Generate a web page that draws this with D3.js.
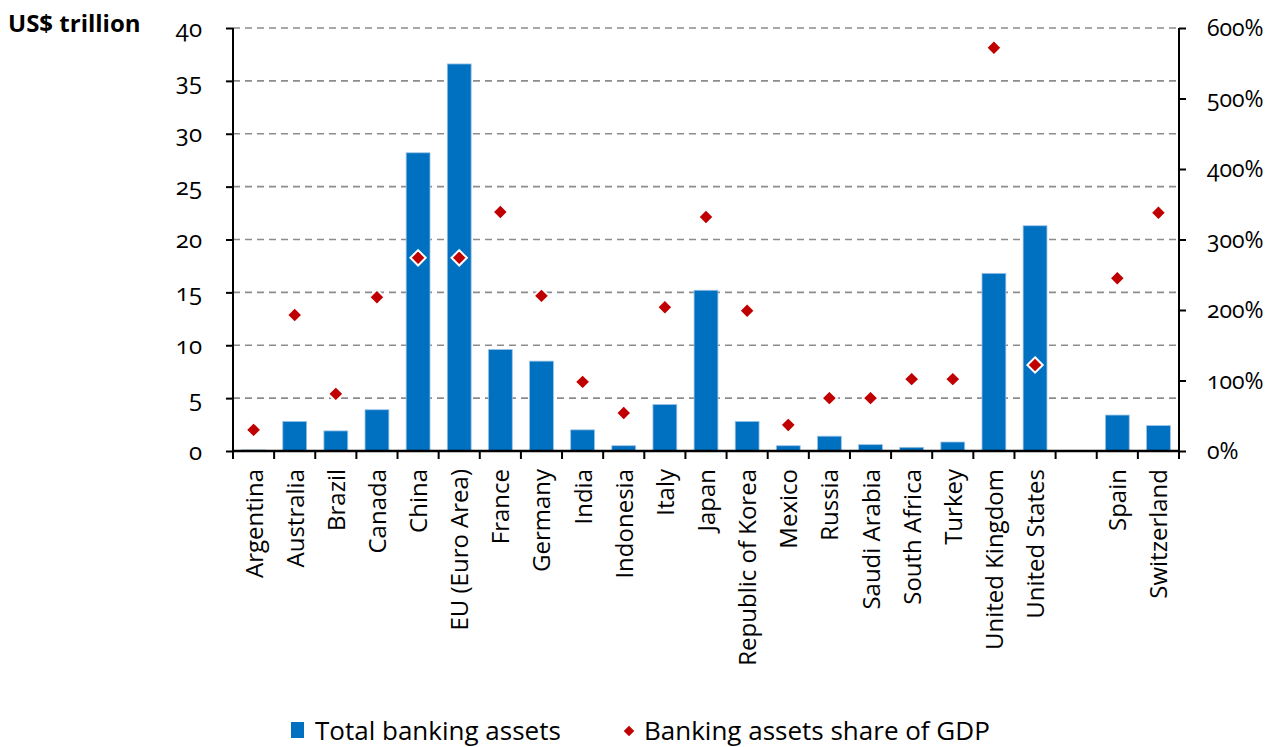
<!DOCTYPE html>
<html><head><meta charset="utf-8">
<script src="https://cdn.jsdelivr.net/npm/d3@7/dist/d3.min.js"></script>
<style>
body{margin:0;background:#fff;}
svg text{font-family:"Open Sans","Noto Sans",sans-serif;}
.num{font-variant-numeric:oldstyle-nums;}
</style></head><body>
<svg id="c" width="1281" height="747"></svg>
<script>
const categories = ["Argentina","Australia","Brazil","Canada","China","EU (Euro Area)","France","Germany","India","Indonesia","Italy","Japan","Republic of Korea","Mexico","Russia","Saudi Arabia","South Africa","Turkey","United Kingdom","United States","","Spain","Switzerland"];
const totalAssets = [0.1,2.8,1.9,3.9,28.2,36.6,9.6,8.5,2.0,0.5,4.4,15.2,2.8,0.5,1.4,0.6,0.35,0.85,16.8,21.3,null,3.4,2.4];
const shareOfGDP = [30,193,81,218,274,274,339,220,98,54,204,332,199,37,75,75,102,102,572,122,null,245,338];
const leftTicks = [0,5,10,15,20,25,30,35,40];
const rightTicks = [0,100,200,300,400,500,600];

const svg = d3.select("#c");
const L=233, R=1179, T=28, B=451;
const x = d3.scaleBand().domain(d3.range(categories.length)).range([L,R]).paddingInner(0.42).paddingOuter(0.21);
const xs = d3.scaleBand().domain(d3.range(categories.length)).range([L,R]);
const y = d3.scaleLinear().domain([0,40]).range([B,T]);
const y2 = d3.scaleLinear().domain([0,600]).range([B,T]);

// gridlines
svg.append("g").selectAll("line").data(leftTicks.filter(d=>d>0)).join("line")
  .attr("x1",L).attr("x2",R).attr("y1",d=>y(d)).attr("y2",d=>y(d))
  .attr("stroke","#8c8c8c").attr("stroke-width",1.6).attr("stroke-dasharray","7,5");

// bars
svg.append("g").selectAll("rect").data(totalAssets.map((v,i)=>({v,i})).filter(d=>d.v!=null)).join("rect")
  .attr("x",d=>x(d.i)).attr("width",x.bandwidth())
  .attr("y",d=>y(d.v)).attr("height",d=>B-y(d.v))
  .attr("fill","#0070C0").attr("stroke","#9dc3e6").attr("stroke-width",0.8);

// diamonds
const sym = d3.symbol().type(d3.symbolDiamond2).size(150);
svg.append("g").selectAll("path").data(shareOfGDP.map((v,i)=>({v,i})).filter(d=>d.v!=null)).join("path")
  .attr("transform",d=>`translate(${xs(d.i)+xs.bandwidth()/2},${y2(d.v)})`)
  .attr("d",sym).attr("fill","#C00000").attr("stroke","#fff").attr("stroke-width",2);

// axes
const gl = svg.append("g").attr("transform",`translate(${L},0)`)
  .call(d3.axisLeft(y).tickValues(leftTicks).tickSize(7).tickPadding(24));
const gr = svg.append("g").attr("transform",`translate(${R},0)`)
  .call(d3.axisRight(y2).tickValues(rightTicks).tickSize(7).tickPadding(21).tickFormat(d=>d+"%"));
[gl,gr].forEach(g=>{
  g.attr("font-family",null);
  g.select(".domain").attr("stroke","#000").attr("stroke-width",2).attr("d",`M0,${T}V${B+8}`);
  g.selectAll(".tick line").attr("stroke","#000").attr("stroke-width",2);
  g.selectAll("text").attr("fill","#000").attr("class","num");
});
gl.selectAll("text").attr("font-size",24).attr("dy","0.34em");
gr.selectAll("text").attr("font-size",23).attr("dy","0.34em");

// bottom axis
const gb = svg.append("g");
gb.append("line").attr("x1",L).attr("x2",R).attr("y1",B).attr("y2",B).attr("stroke","#000").attr("stroke-width",2.5);
gb.selectAll("line.t").data(d3.range(categories.length+1)).join("line").attr("class","t")
  .attr("x1",d=>L+d*xs.bandwidth()).attr("x2",d=>L+d*xs.bandwidth())
  .attr("y1",B).attr("y2",B+8).attr("stroke","#000").attr("stroke-width",2);
gb.selectAll("text").data(categories.map((c,i)=>({c,i}))).join("text")
  .attr("transform",d=>`translate(${xs(d.i)+xs.bandwidth()/2+9},469) rotate(-90)`)
  .attr("text-anchor","end").attr("font-size",24).attr("fill","#000").text(d=>d.c);

// title
svg.append("text").attr("x",8).attr("y",32).attr("font-size",24).attr("font-weight","bold").attr("fill","#000").text("US$ trillion");

// legend
const lg = svg.append("g");
lg.append("rect").attr("x",291).attr("y",722).attr("width",13).attr("height",16).attr("fill","#0070C0");
lg.append("text").attr("x",315).attr("y",740).attr("font-size",26).attr("fill","#000").text("Total banking assets");
lg.append("path").attr("transform","translate(629,731)").attr("d",d3.symbol().type(d3.symbolDiamond2).size(70)).attr("fill","#C00000");
lg.append("text").attr("x",644).attr("y",740).attr("font-size",26).attr("fill","#000").text("Banking assets share of GDP");
</script></body></html>
